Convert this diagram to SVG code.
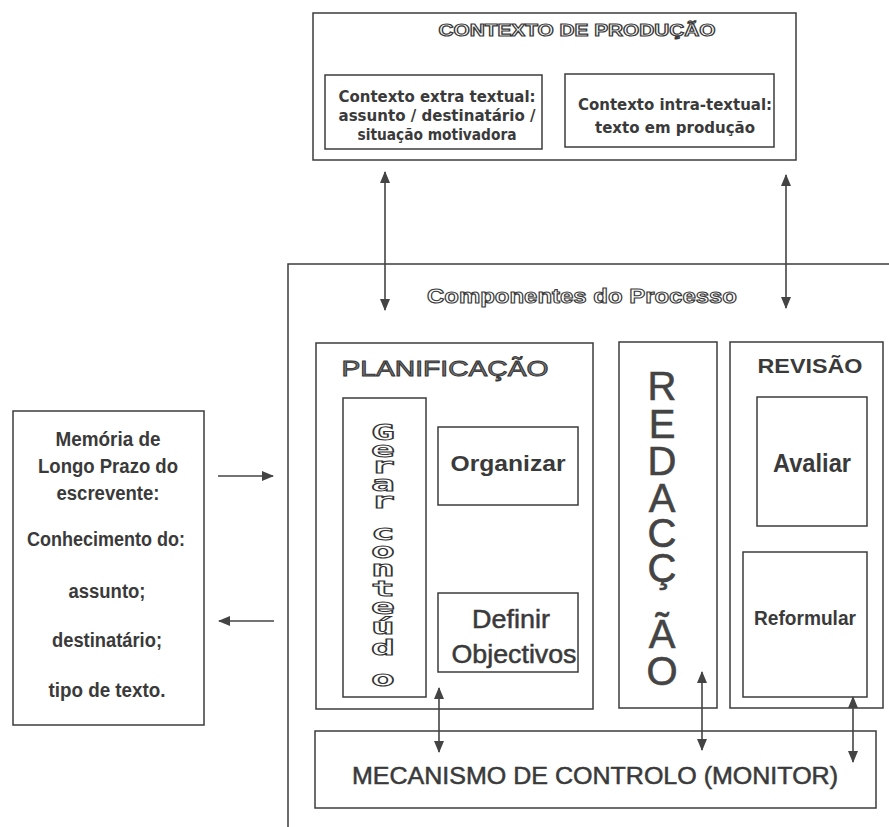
<svg xmlns="http://www.w3.org/2000/svg" width="889" height="827" viewBox="0 0 889 827">
<style>
.box{fill:none;stroke:#3c3c3c;stroke-width:1.5}
.t{font-family:"Liberation Sans",Arial,sans-serif;fill:#3a3a3a;text-anchor:middle}
.b{font-weight:bold}
.v{font-family:"DejaVu Sans",Verdana,sans-serif;font-weight:bold;fill:#3a3a3a;text-anchor:middle;font-size:15.5px}
.hol{font-family:"Liberation Sans",Arial,sans-serif;font-weight:bold;fill:#fff;stroke:#3a3a3a;stroke-width:1.1;text-anchor:middle}
.mono{font-family:"DejaVu Sans Mono","Liberation Mono",monospace;font-weight:bold;font-size:22px;fill:#fff;stroke:#333;stroke-width:1;text-anchor:middle}
.big{font-family:"Liberation Sans",Arial,sans-serif;font-size:40px;fill:#444;stroke:#444;stroke-width:0.6;text-anchor:middle}
.conn{fill:none;stroke:#444;stroke-width:1.6}
</style>
<defs>
<marker id="ah" viewBox="0 0 12 10" refX="11" refY="5" markerWidth="12" markerHeight="10" markerUnits="userSpaceOnUse" orient="auto-start-reverse">
<path d="M0,0 L12,5 L0,10 z" fill="#444"/>
</marker>
</defs>
<rect width="889" height="827" fill="#fff"/>

<g id="contexto-producao">
<rect class="box" x="313" y="13" width="483" height="147"/>
<text class="hol" x="577" y="36" font-size="16" textLength="277" lengthAdjust="spacingAndGlyphs">CONTEXTO DE PRODUÇÃO</text>
</g>
<g id="contexto-extra">
<rect class="box" x="325" y="75" width="217" height="74"/>
<text class="v" x="437" y="102" textLength="197" lengthAdjust="spacingAndGlyphs">Contexto extra textual:</text>
<text class="v" x="437" y="121" textLength="197" lengthAdjust="spacingAndGlyphs">assunto / destinatário /</text>
<text class="v" x="437" y="140" textLength="159" lengthAdjust="spacingAndGlyphs">situação motivadora</text>
</g>
<g id="contexto-intra">
<rect class="box" x="565" y="74" width="209" height="73"/>
<text class="v" x="675" y="110" textLength="194" lengthAdjust="spacingAndGlyphs">Contexto intra-textual:</text>
<text class="v" x="675" y="133" textLength="160" lengthAdjust="spacingAndGlyphs">texto em produção</text>
</g>

<g id="memoria">
<rect class="box" x="13" y="411" width="191" height="314"/>
<text class="t b" font-size="20" x="108" y="446" textLength="105" lengthAdjust="spacingAndGlyphs">Memória de</text>
<text class="t b" font-size="20" x="108" y="473" textLength="140" lengthAdjust="spacingAndGlyphs">Longo Prazo do</text>
<text class="t b" font-size="20" x="108" y="500" textLength="103" lengthAdjust="spacingAndGlyphs">escrevente:</text>
<text class="t b" font-size="20" x="106" y="546" textLength="158" lengthAdjust="spacingAndGlyphs">Conhecimento do:</text>
<text class="t b" font-size="20" x="107" y="598" textLength="77" lengthAdjust="spacingAndGlyphs">assunto;</text>
<text class="t b" font-size="20" x="107" y="647" textLength="110" lengthAdjust="spacingAndGlyphs">destinatário;</text>
<text class="t b" font-size="20" x="107" y="697" textLength="117" lengthAdjust="spacingAndGlyphs">tipo de texto.</text>
</g>

<g id="componentes">
<path class="box" d="M889,264 L288,264 L288,827"/>
<text class="hol" x="582" y="303" font-size="21" textLength="310" lengthAdjust="spacingAndGlyphs">Componentes do Processo</text>
</g>

<g id="planificacao">
<rect class="box" x="316" y="343" width="277" height="366"/>
<text x="445" y="376" font-family="Liberation Sans,Arial,sans-serif" font-size="22" fill="#777" stroke="#333" stroke-width="0.9" text-anchor="middle" textLength="207" lengthAdjust="spacingAndGlyphs">PLANIFICAÇÃO</text>
</g>
<g id="gerar-conteudo">
<rect class="box" x="343" y="398" width="83" height="299"/>
<g transform="translate(383,0) scale(1.8,1)">
<text class="mono" x="0" y="440">G</text>
<text class="mono" x="0" y="457">e</text>
<text class="mono" x="0" y="473">r</text>
<text class="mono" x="0" y="491">a</text>
<text class="mono" x="0" y="508">r</text>
<text class="mono" x="0" y="540">c</text>
<text class="mono" x="0" y="558">o</text>
<text class="mono" x="0" y="576">n</text>
<text class="mono" x="0" y="596">t</text>
<text class="mono" x="0" y="614">e</text>
<text class="mono" x="0" y="634">ú</text>
<text class="mono" x="0" y="655">d</text>
<text class="mono" x="0" y="686">o</text>
</g>
</g>
<g id="organizar">
<rect class="box" x="438" y="427" width="140" height="78"/>
<text class="t b" x="508" y="471" font-size="22" textLength="115" lengthAdjust="spacingAndGlyphs">Organizar</text>
</g>
<g id="definir-objectivos">
<rect class="box" x="438" y="593" width="140" height="79"/>
<text class="t" x="511" y="628" font-size="25" stroke="#3a3a3a" stroke-width="0.5" textLength="78" lengthAdjust="spacingAndGlyphs">Definir</text>
<text class="t" x="514" y="663" font-size="25" stroke="#3a3a3a" stroke-width="0.5" textLength="125" lengthAdjust="spacingAndGlyphs">Objectivos</text>
</g>

<g id="redaccao">
<rect class="box" x="619" y="342" width="98" height="366"/>
<text class="big" x="662" y="400">R</text>
<text class="big" x="662" y="438">E</text>
<text class="big" x="662" y="475">D</text>
<text class="big" x="662" y="512">A</text>
<text class="big" x="662" y="547">C</text>
<text class="big" x="662" y="582">Ç</text>
<text class="big" x="662" y="648">Ã</text>
<text class="big" x="662" y="685">O</text>
</g>

<g id="revisao">
<rect class="box" x="730" y="342" width="153" height="366"/>
<text class="t b" x="810" y="373" font-size="20" textLength="105" lengthAdjust="spacingAndGlyphs">REVISÃO</text>
</g>
<g id="avaliar">
<rect class="box" x="757" y="397" width="110" height="129"/>
<text class="t b" x="812" y="472" font-size="25" textLength="78" lengthAdjust="spacingAndGlyphs">Avaliar</text>
</g>
<g id="reformular">
<rect class="box" x="743" y="552" width="124" height="145"/>
<text class="t b" x="805" y="625" font-size="21" textLength="102" lengthAdjust="spacingAndGlyphs">Reformular</text>
</g>

<g id="monitor">
<rect class="box" x="315" y="731" width="561" height="77"/>
<text class="t" x="595" y="784" font-size="23" stroke="#3a3a3a" stroke-width="0.5" textLength="486" lengthAdjust="spacingAndGlyphs">MECANISMO DE CONTROLO (MONITOR)</text>
</g>

<g id="connectors">
<line class="conn" x1="385" y1="172" x2="385" y2="310" marker-start="url(#ah)" marker-end="url(#ah)"/>
<line class="conn" x1="786" y1="175" x2="786" y2="308" marker-start="url(#ah)" marker-end="url(#ah)"/>
<line class="conn" x1="218" y1="476" x2="273" y2="476" marker-end="url(#ah)"/>
<line class="conn" x1="274" y1="621" x2="219" y2="621" marker-end="url(#ah)"/>
<line class="conn" x1="439" y1="688" x2="439" y2="752" marker-start="url(#ah)" marker-end="url(#ah)"/>
<line class="conn" x1="702" y1="672" x2="702" y2="750" marker-start="url(#ah)" marker-end="url(#ah)"/>
<line class="conn" x1="853" y1="697" x2="853" y2="762" marker-start="url(#ah)" marker-end="url(#ah)"/>
</g>
</svg>
